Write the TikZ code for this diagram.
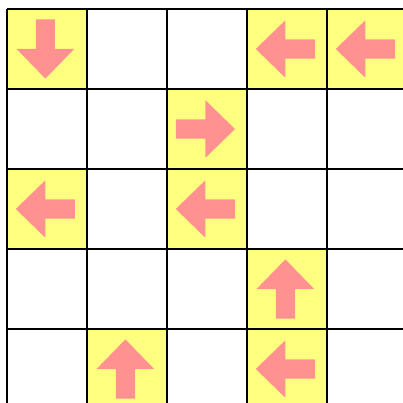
\documentclass[tikz,border=0pt]{standalone}
\definecolor{cellyellow}{HTML}{FFFF80}
\definecolor{arrowpink}{HTML}{FF9191}
\tikzset{gridline/.style={draw=black,line width=1.4pt},
  marked/.style={fill=cellyellow},
  arrowshape/.style={fill=arrowpink}}
\begin{document}
\begin{tikzpicture}[x=20mm,y=20mm]
\useasboundingbox (-0.0875,0.1125) rectangle (4.95,-4.925);
\clip (-0.0875,0.1125) rectangle (4.95,-4.925);
\fill[white] (-0.0875,0.1125) rectangle (4.95,-4.925);
% marked cells: column/row/direction
\foreach \c/\r/\a in {0/0/-90,3/0/180,4/0/180,2/1/0,0/2/180,2/2/180,3/3/90,1/4/90,3/4/180}{
  \fill[marked] (\c,-\r) rectangle (\c+1,-\r-1);
  \fill[arrowshape,shift={(\c+.48,-\r-.5)},rotate=\a]
    (-.37,-.12) -- (0,-.12) -- (0,-.36) -- (.37,0) -- (0,.36) -- (0,.12) -- (-.37,.12) -- cycle;}
\draw[gridline,step=20mm] (0,-5) grid (5,0);
\end{tikzpicture}
\end{document}
